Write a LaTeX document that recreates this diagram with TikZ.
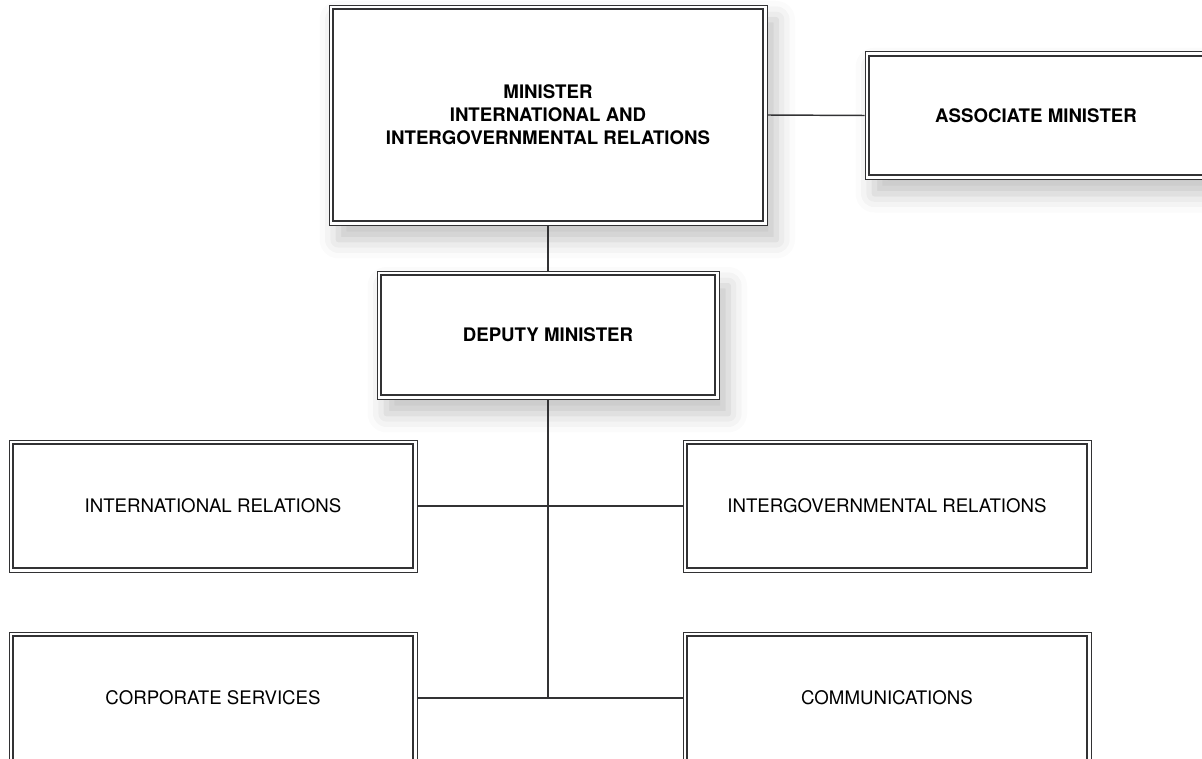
\documentclass[tikz,border=0pt]{standalone}
\usepackage{fontspec}
\setmainfont{TeX Gyre Heros}
\usepackage{xcolor}
\usetikzlibrary{shadows.blur}
\definecolor{boxline}{RGB}{50,50,52}
\tikzset{
  orgbox/.style={draw=boxline, line width=0.7pt, fill=white, align=center, inner sep=0pt,
    font=\fontsize{14}{17.3}\selectfont},
  headbox/.style={orgbox, font=\fontsize{14}{17.3}\selectfont\bfseries,
    blur shadow={shadow xshift=7pt, shadow yshift=-11pt, shadow blur radius=14pt, shadow opacity=24}},
  innerline/.style={draw=boxline, line width=1.6pt},
  link/.style={draw=boxline, line width=1.1pt}
}

\begin{document}
\begin{tikzpicture}[x=0.75pt,y=0.75pt,yscale=-1,xscale=1]
\useasboundingbox (0,0) rectangle (1202,759);

% Boxes
\node [headbox, minimum width=328.5pt, minimum height=165pt] (minister) at (548,115)
  {MINISTER\\INTERNATIONAL AND\\INTERGOVERNMENTAL RELATIONS};
\node [headbox, minimum width=256.5pt, minimum height=95.5pt] (assoc) at (1036,115.5) {ASSOCIATE MINISTER};
\node [headbox, minimum width=256.5pt, minimum height=96pt] (deputy) at (548,335) {DEPUTY MINISTER};
\node [orgbox, minimum width=306pt, minimum height=99pt] (intl) at (213,506) {INTERNATIONAL RELATIONS};
\node [orgbox, minimum width=306pt, minimum height=99pt] (intergov) at (887,506) {INTERGOVERNMENTAL RELATIONS};
\node [orgbox, minimum width=306pt, minimum height=99pt] (corp) at (213,698) {CORPORATE SERVICES};
\node [orgbox, minimum width=306pt, minimum height=99pt] (comms) at (887,698) {COMMUNICATIONS};

% Inner frames
\foreach \n in {minister,assoc,deputy,intl,intergov,corp,comms}
  \draw [innerline] ([shift={(3.4pt,3.4pt)}]\n.north west) rectangle ([shift={(-3.4pt,-3.4pt)}]\n.south east);

%Straight Lines
\coordinate (hub) at (deputy.south |- corp.east);
\draw [link] (minister.east) -- (assoc.west);
\draw [link] (minister.south) -- (deputy.north);
\draw [link] (deputy.south) -- (hub);
\draw [link] (intl.east) -- (intergov.west);
\draw [link] (corp.east) -- (comms.west);

\end{tikzpicture}
\end{document}
